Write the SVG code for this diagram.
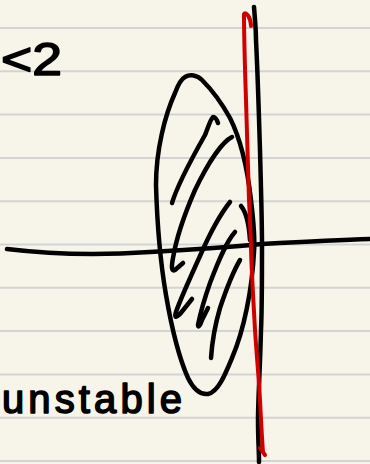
<svg xmlns="http://www.w3.org/2000/svg" width="370" height="464" viewBox="0 0 370 464">
  <style>
    .rule { stroke: #d3d3d3; stroke-width: 2; fill: none; }
    .ink { stroke: #000; stroke-width: 4.5; fill: none; stroke-linecap: round; stroke-linejoin: round; }
    .red { stroke: #d00000; stroke-width: 4; fill: none; stroke-linecap: round; stroke-linejoin: round; }
    .hand { font-family: "Liberation Sans", "DejaVu Sans", sans-serif; fill: #000; stroke: #000; stroke-width: 1.6; stroke-linejoin: round; }
  </style>
  <rect width="370" height="464" fill="#f7f5ea"/>
  <g id="paper-rules">
    <line class="rule" x1="0" y1="28" x2="370" y2="28"/>
    <line class="rule" x1="0" y1="71.3" x2="370" y2="71.3"/>
    <line class="rule" x1="0" y1="114.6" x2="370" y2="114.6"/>
    <line class="rule" x1="0" y1="157.9" x2="370" y2="157.9"/>
    <line class="rule" x1="0" y1="201.2" x2="370" y2="201.2"/>
    <line class="rule" x1="0" y1="244.5" x2="370" y2="244.5"/>
    <line class="rule" x1="0" y1="287.8" x2="370" y2="287.8"/>
    <line class="rule" x1="0" y1="331.1" x2="370" y2="331.1"/>
    <line class="rule" x1="0" y1="374.4" x2="370" y2="374.4"/>
    <line class="rule" x1="0" y1="417.7" x2="370" y2="417.7"/>
    <line class="rule" x1="0" y1="461" x2="370" y2="461"/>
  </g>
  <g id="region">
    <path class="ink" d="M185,77 C190,74 197,75 202,80 C210,88 220,100 230,118 C240,138 247,165 251,200 C254,225 255,240 254,252 C252,290 244,330 232,358 C225,375 218,392 208,394 C200,395 193,388 188,378 C180,360 172,330 166,295 C160,260 157,220 156,185 C156,150 165,115 175,93 C178,85 181,79 185,77 Z"/>
    <path class="ink" d="M172,203 C178,183 192,158 205,135 C208,128 210,120 213,117 C215,117 217,120 218,123"/>
    <path class="ink" d="M232,137 C222,142 208,163 195,190 C185,213 176,240 173,258 C171,268 172,272 175,270 L183,263"/>
    <path class="ink" d="M230,202 C222,212 210,233 200,256 C190,278 180,300 176,312 C174,318 176,318 180,314 L192,299"/>
    <path class="ink" d="M235,232 C226,242 218,262 210,283 C204,300 200,315 198,325 C198,328 200,326 202,320 L208,308"/>
    <path class="ink" d="M240,260 C233,272 226,290 220,308 C215,325 212,343 211,358"/>
    <path class="ink" d="M241,206 C246,212 249,225 250,240"/>
  </g>
  <g id="axes">
    <path class="ink" d="M7,249 C40,253 90,256 150,252 C200,249 240,246 262,244 C300,242 340,240 370,239"/>
    <path class="ink" d="M254,7 C255,20 256,30 256,40 C258,80 259,120 260,150 C261,190 262,220 262,245 C262,280 262,310 261,330 C260,370 258,400 258,420 C258,440 259,450 259,462"/>
  </g>
  <g id="boundary">
    <path class="red" d="M251,26 C251,18 246,11 244,14 C244,40 245,70 246,100 C247,140 248,170 249,200 C250,220 251,240 251,250 C252,280 254,310 255,330 C257,360 259,380 260,400 C261,420 262,440 263,452 L260,448 L265,455"/>
  </g>
  <g id="labels">
    <text class="hand" x="1" y="75" font-size="46" textLength="61" lengthAdjust="spacingAndGlyphs">&lt;2</text>
    <text class="hand" x="2" y="413" font-size="40" textLength="180" lengthAdjust="spacing">unstable</text>
  </g>
</svg>
